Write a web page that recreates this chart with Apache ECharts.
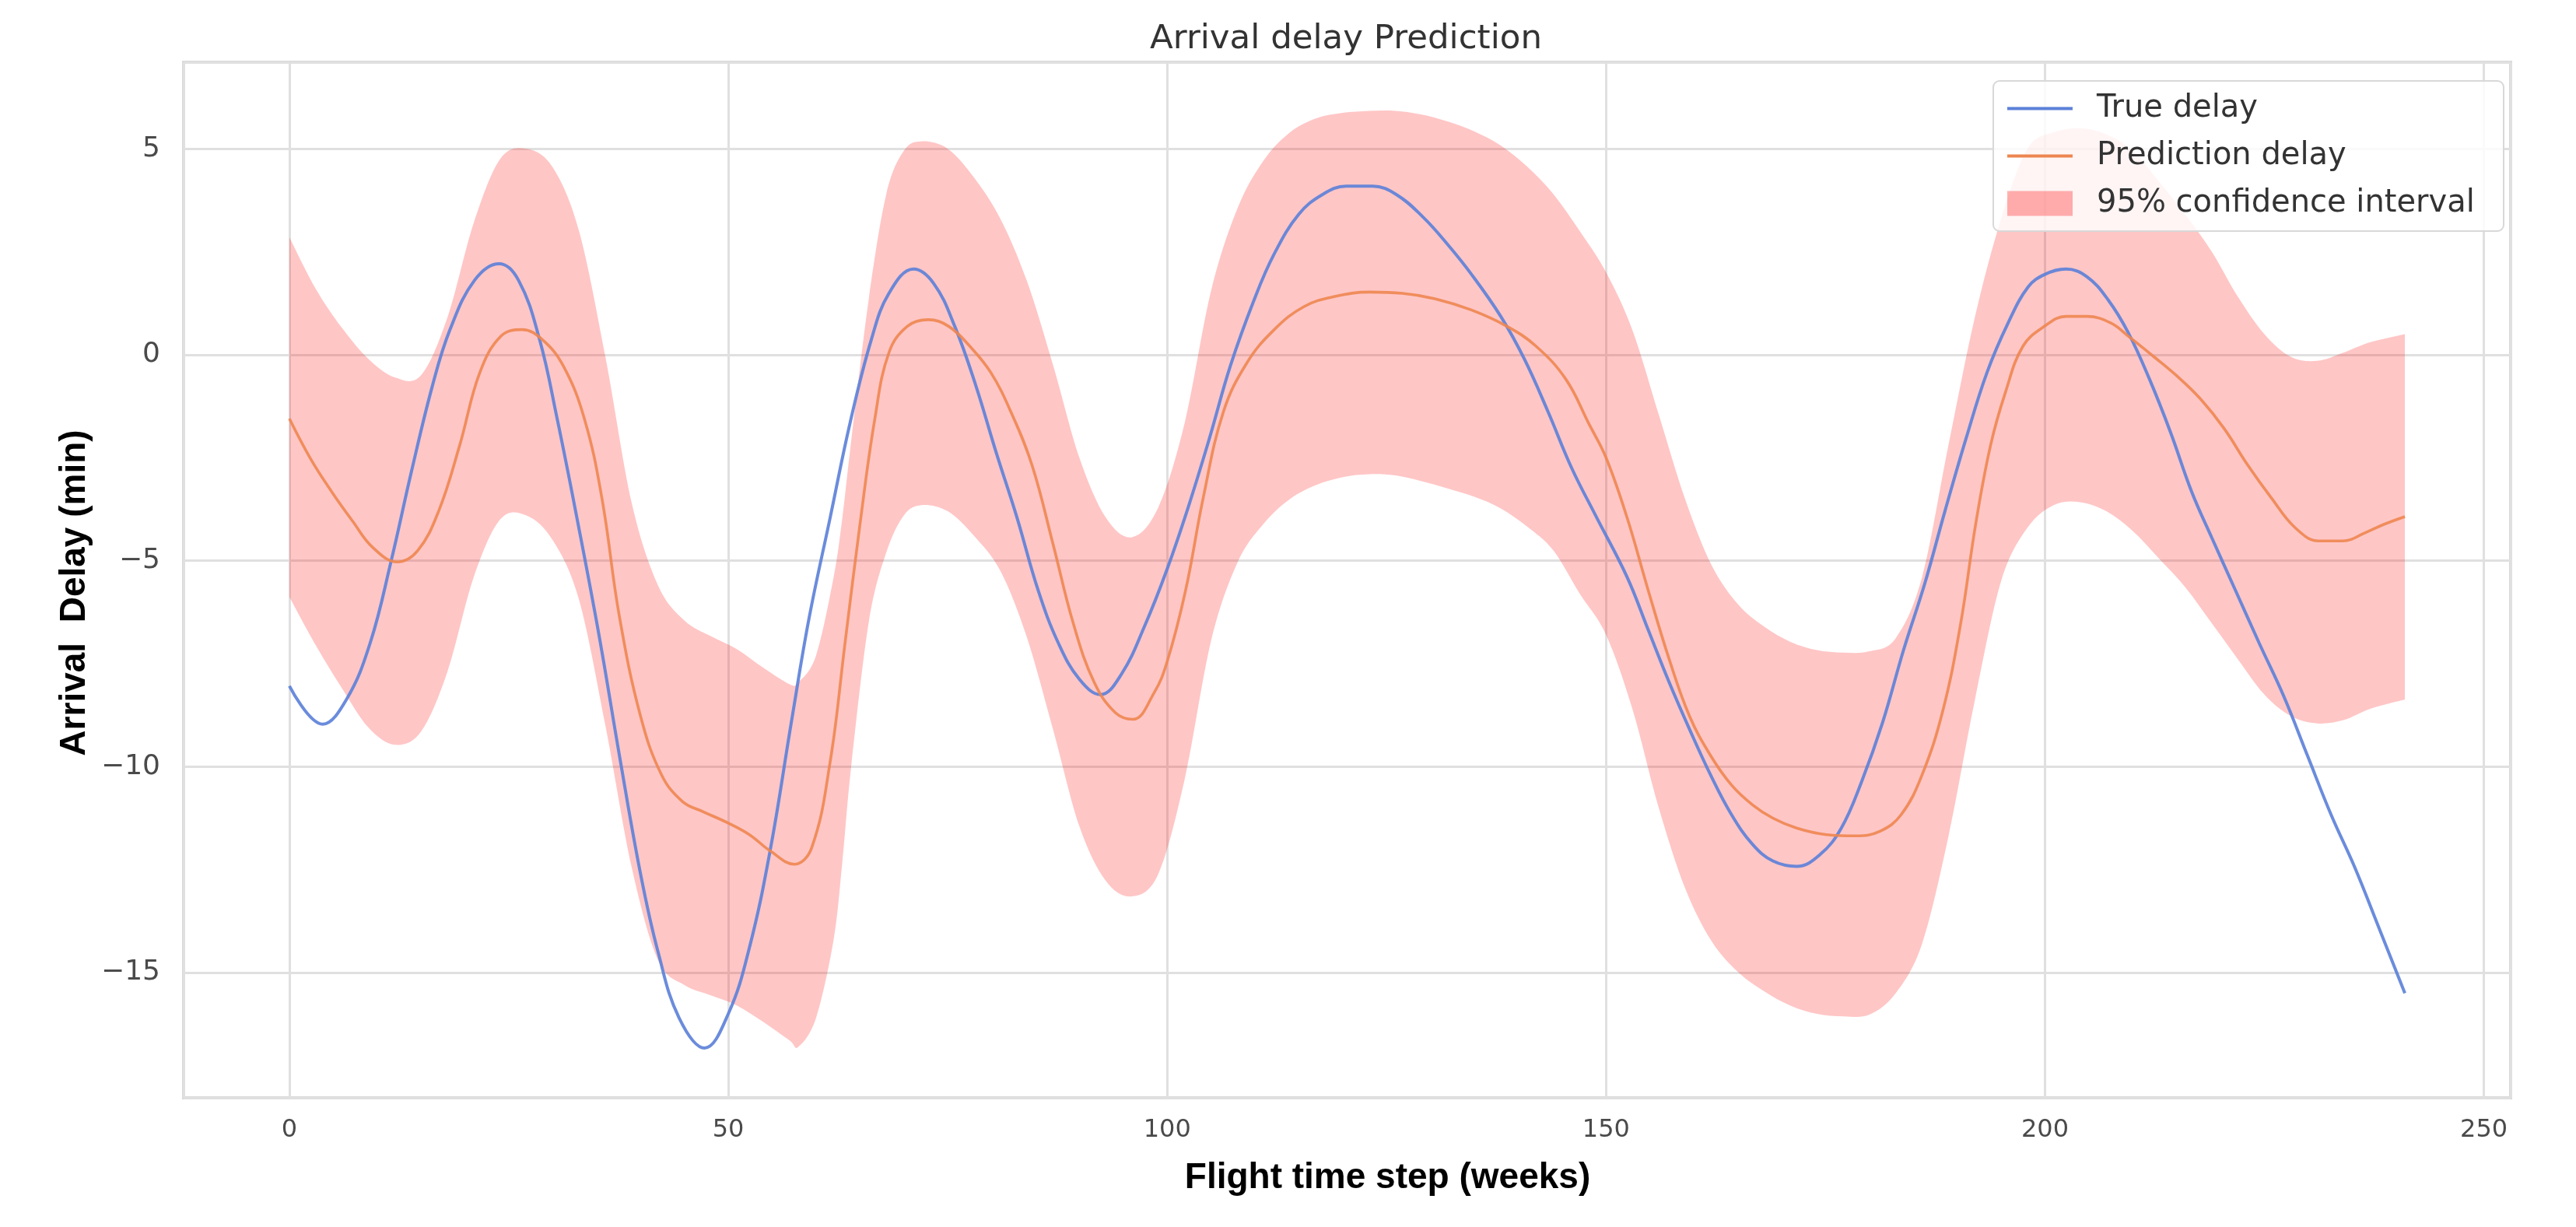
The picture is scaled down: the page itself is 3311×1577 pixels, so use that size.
<!DOCTYPE html>
<html>
<head>
<meta charset="utf-8">
<script src="https://cdn.jsdelivr.net/npm/echarts@6/dist/echarts.min.js"></script>
<style>
html,body{margin:0;padding:0;background:#ffffff;}
#chart{width:3311px;height:1577px;}
</style>
</head>
<body>
<div id="chart"></div>
<script>
// ---------------- data ----------------
const chartTitle = 'Arrival delay Prediction';
const xAxisTitle = 'Flight time step (weeks)';
const yAxisTitle = 'Arrival  Delay (min)';
const seriesNames = ['True delay', 'Prediction delay', '95% confidence interval'];

const xTicks = [0, 50, 100, 150, 200, 250];
const yTicks = [-15, -10, -5, 0, 5];

// True delay
const trueX = [0, 3.8, 6.5, 9.2, 11.6, 13.9, 16.3, 18.3, 21.1, 23.9, 26.1, 28.5, 30.5, 32.9, 35.3, 37.6, 40, 42, 44.4, 47.3,
  50, 52.4, 54.8, 57.2, 59.2, 61.6, 63.9, 66.3, 68.3, 71.1, 73.4, 75.8, 78.2, 80.5, 82.9, 85.3, 87.6, 90, 92.4, 94.8, 97.5,
  100, 102.4, 104.8, 107.2, 109.9, 112.2, 115, 117.7, 120.4, 123.4, 126.1, 129.2, 131.9, 134.6, 138, 140.7, 143.4, 146.1, 148.8,
  152.4, 154.8, 157.2, 159.5, 161.9, 164.3, 166.7, 169, 171.7, 174.4, 176.8, 179.1, 181.5, 183.9, 186.3, 188.6, 191, 193.4, 195.8, 198.1,
  200, 202.4, 204.8, 207.2, 209.5, 211.9, 214.3, 216.7, 219, 221.7, 224.4, 227.2, 229.9, 232.6, 235.3, 238, 241];
const trueY = [-8.04, -8.97, -8.37, -7.0, -5.0, -2.84, -0.75, 0.61, 1.81, 2.21, 1.81, 0.37, -1.55, -4.12, -6.84, -9.73, -12.6, -14.5, -16.1, -16.83,
  -16.0, -14.4, -12.0, -8.9, -6.4, -3.96, -1.63, 0.37, 1.49, 2.08, 1.73, 0.69, -0.75, -2.36, -3.96, -5.72, -7.0, -7.88, -8.25, -7.75, -6.55,
  -5.2, -3.7, -2.04, -0.27, 1.33, 2.45, 3.41, 3.89, 4.09, 4.09, 3.89, 3.33, 2.69, 1.97, 0.93, -0.11, -1.39, -2.76, -3.9,
  -5.4, -6.68, -7.96, -9.09, -10.2, -11.17, -11.89, -12.29, -12.42, -12.13, -11.49, -10.37, -8.93, -7.16, -5.56, -3.8, -2.04, -0.43, 0.77, 1.65,
  1.95, 2.08, 1.89, 1.33, 0.53, -0.59, -1.88, -3.32, -4.44, -5.72, -7.0, -8.29, -9.73, -11.17, -12.45, -13.89, -15.5];

// Prediction delay
const predX = [0, 2.4, 4.8, 7.2, 9.5, 12.3, 14.6, 17, 19.4, 21.7, 24.1, 26.5, 28.8, 31.2, 33.6, 35.6, 37.6, 40, 42.4, 44.8, 47.1,
  50, 52.4, 54.8, 57.5, 59.5, 61.6, 63.3, 65, 66.7, 68.3, 70.4, 72.8, 75.1, 77.5, 79.9, 82.2, 84.6, 87, 89.3, 91.7, 94.1, 96.1, 98.5,
  100, 102.1, 104.1, 106.4, 109.1, 112.2, 115.6, 119, 123.1, 126.8, 130.5, 134.6, 138.7, 142, 145.4, 148.1,
  150, 152.4, 154.8, 157.2, 159.5, 161.9, 164.3, 166.7, 169, 171.7, 175.1, 178.5, 181.2, 183.6, 186, 188.4, 190.4, 192.1, 193.8, 195.5, 197.5,
  200, 202.4, 204.8, 207.5, 209.5, 212.3, 215, 217.7, 220.4, 223.1, 225.8, 228.5, 231.2, 233.9, 236.6, 238.6, 241];
const predY = [-1.55, -2.52, -3.32, -4.04, -4.68, -5.03, -4.76, -3.8, -2.2, -0.43, 0.45, 0.61, 0.37, -0.27, -1.55, -3.48, -6.36, -8.77, -10.2, -10.85, -11.09,
  -11.37, -11.65, -12.05, -12.37, -11.97, -9.89, -7.0, -4.12, -1.55, 0.05, 0.69, 0.85, 0.69, 0.21, -0.43, -1.39, -2.68, -4.6, -6.52, -7.96, -8.69, -8.85, -8.21,
  -7.45, -5.72, -3.48, -1.39, -0.19, 0.61, 1.17, 1.41, 1.52, 1.49, 1.36, 1.09, 0.69, 0.21, -0.59, -1.7,
  -2.5, -3.96, -5.72, -7.4, -8.77, -9.73, -10.45, -10.93, -11.25, -11.49, -11.65, -11.68, -11.57, -11.17, -10.2, -8.61, -6.52, -4.12, -2.2, -0.91, 0.21,
  0.7, 0.93, 0.93, 0.77, 0.45, -0.03, -0.51, -1.07, -1.79, -2.68, -3.48, -4.2, -4.52, -4.52, -4.31, -4.12, -3.93];

// 95% confidence interval
const ciX = [0, 3, 6, 9, 12, 15, 18, 21, 24, 27, 30, 33, 36, 39, 42, 45, 48, 51, 54, 57, 58, 60, 62, 63, 64, 66, 68, 70, 72, 75, 78,
  81, 84, 87, 90, 93, 96, 99, 102, 105, 108, 111, 114, 117, 120, 123, 126, 129, 132, 135, 138, 141, 144, 147, 150, 153, 156, 159,
  162, 165, 168, 171, 174, 177, 180, 183, 186, 189, 192, 195, 198, 201, 204, 207, 210, 213, 216, 219, 222, 225, 228, 231, 234, 237, 241];
const ciUpper = [2.85, 1.6, 0.65, -0.1, -0.55, -0.5, 0.9, 3.2, 4.75, 5.0, 4.55, 3.0, -0.05, -3.6, -5.6, -6.45, -6.83, -7.15, -7.6, -8.0, -7.95, -7.3, -5.4, -3.95, -2.1, 1.35, 3.9, 4.95, 5.18, 5.0, 4.3,
  3.3, 1.8, -0.25, -2.5, -3.95, -4.43, -3.7, -1.65, 1.55, 3.55, 4.72, 5.4, 5.74, 5.87, 5.92, 5.92, 5.83, 5.66, 5.42, 5.08, 4.57, 3.9, 3.0, 2.0, 0.6, -1.45, -3.5,
  -5.1, -6.05, -6.6, -6.97, -7.17, -7.23, -7.2, -6.88, -5.4, -2.2, 0.9, 3.3, 5.0, 5.4, 5.5, 5.35, 4.95, 4.2, 3.4, 2.5, 1.4, 0.5, -0.05, -0.15, 0.05, 0.3, 0.5];
const ciLower = [-5.88, -7.05, -8.1, -9.05, -9.47, -9.15, -7.7, -5.4, -4.0, -3.9, -4.5, -5.95, -9.0, -12.45, -14.7, -15.3, -15.55, -15.8, -16.2, -16.65, -16.8, -16.1, -14.2, -12.3, -10.0, -6.5, -4.8, -3.9, -3.65, -3.8, -4.4,
  -5.25, -6.85, -9.1, -11.45, -12.77, -13.15, -12.6, -10.3, -6.95, -5.05, -4.1, -3.5, -3.16, -2.97, -2.9, -2.93, -3.07, -3.25, -3.45, -3.73, -4.17, -4.75, -5.8, -6.8, -8.6, -11.0, -12.95,
  -14.23, -14.98, -15.45, -15.8, -16.0, -16.06, -16.02, -15.5, -14.3, -11.7, -8.4, -5.5, -4.2, -3.65, -3.58, -3.8, -4.28, -4.95, -5.65, -6.52, -7.4, -8.25, -8.77, -8.95, -8.87, -8.6, -8.37];

// ---------------- styling ----------------
const BLUE = '#5b80d8';
const ORANGE = '#ee8650';
const PINK = 'rgba(255,0,0,0.225)';
const GRID_COLOR = '#e0e0e0';
const TICK_FONT = 'DejaVu Sans';
const LINE_ICON = 'path://M0,0L0.01,0L0.01,0.01Z M0,14L84,14L84,18L0,18Z M84,31.99L84.01,31.99L84.01,32Z';

const fmt = v => String(v).replace('-', '\u2212');

// smooth (Catmull-Rom) path through pixel points, built from api.coord results
function smoothSegment(p) {
  let s = '';
  for (let i = 0; i < p.length - 1; i++) {
    const p0 = p[Math.max(i - 1, 0)], p1 = p[i], p2 = p[i + 1], p3 = p[Math.min(i + 2, p.length - 1)];
    const t = 1 / 6;
    const c1x = p1[0] + (p2[0] - p0[0]) * t, c1y = p1[1] + (p2[1] - p0[1]) * t;
    const c2x = p2[0] - (p3[0] - p1[0]) * t, c2y = p2[1] - (p3[1] - p1[1]) * t;
    s += 'C' + c1x + ',' + c1y + ' ' + c2x + ',' + c2y + ' ' + p2[0] + ',' + p2[1];
  }
  return s;
}

function renderBand(params, api) {
  const up = ciX.map((x, i) => api.coord([x, ciUpper[i]]));
  const lo = ciX.map((x, i) => api.coord([x, ciLower[i]])).reverse();
  let d = 'M' + up[0][0] + ',' + up[0][1];
  d += smoothSegment(up);
  d += 'L' + lo[0][0] + ',' + lo[0][1];
  d += smoothSegment(lo);
  d += 'Z';
  return {
    type: 'path',
    z2: 0,
    shape: {pathData: d},
    style: {fill: PINK, stroke: null},
    silent: true
  };
}

const chart = echarts.init(document.getElementById('chart'), null, {renderer: 'canvas'});

const option = {
  backgroundColor: '#ffffff',
  animation: false,
  title: {
    text: chartTitle,
    left: 1473,
    top: 24,
    padding: 5,
    textStyle: {fontFamily: TICK_FONT, fontSize: 43.5, fontWeight: 'normal', color: '#333333'}
  },
  // translucent white panel behind the legend (matplotlib legend frame, alpha 0.8)
  graphic: [{
    type: 'rect',
    z: 30,
    silent: true,
    shape: {x: 2562, y: 104, width: 656, height: 193, r: 8},
    style: {fill: 'rgba(255,255,255,0.82)', stroke: '#d8d8d8', lineWidth: 2}
  }],
  legend: {
    z: 40,
    left: 2562,
    top: 104,
    orient: 'vertical',
    padding: [15, 35, 16, 18],
    itemWidth: 84,
    itemHeight: 32,
    itemGap: 20,
    textStyle: {fontFamily: TICK_FONT, fontSize: 40, color: '#333333', lineHeight: 41, padding: [0, 0, 0, 26]},
    data: [
      {name: seriesNames[0], icon: LINE_ICON, itemStyle: {color: BLUE}},
      {name: seriesNames[1], icon: LINE_ICON, itemStyle: {color: ORANGE}},
      {name: seriesNames[2], icon: 'rect', itemStyle: {color: 'rgba(255,0,0,0.3)'}}
    ]
  },
  grid: {
    left: 236, right: 84, top: 80, bottom: 166,
    show: true, borderColor: '#d9d9d9', borderWidth: 4, backgroundColor: 'transparent'
  },
  xAxis: {
    type: 'value',
    min: -12.05, max: 253.05,
    splitNumber: 5,
    axisLine: {show: false},
    axisTick: {show: false},
    splitLine: {show: true, lineStyle: {color: GRID_COLOR, width: 3}},
    axisLabel: {
      customValues: xTicks,
      formatter: fmt,
      margin: 26,
      fontFamily: TICK_FONT, fontSize: 32, color: '#4a4a4a'
    },
    name: xAxisTitle,
    nameLocation: 'middle',
    nameGap: 80,
    nameTextStyle: {fontFamily: 'Liberation Sans, Arial, sans-serif', fontWeight: 'bold', fontSize: 46, color: '#000000', padding: [0, 0, 0, 104]}
  },
  yAxis: {
    type: 'value',
    min: -18.04, max: 7.1,
    splitNumber: 5,
    axisLine: {show: false},
    axisTick: {show: false},
    splitLine: {show: true, lineStyle: {color: GRID_COLOR, width: 3}},
    axisLabel: {
      customValues: yTicks,
      formatter: fmt,
      margin: 30,
      fontFamily: TICK_FONT, fontSize: 36, color: '#4a4a4a'
    },
    name: yAxisTitle,
    nameLocation: 'middle',
    nameGap: 112,
    nameTextStyle: {fontFamily: 'Liberation Sans, Arial, sans-serif', fontWeight: 'bold', fontSize: 46, color: '#000000', padding: [0, 33, 0, 0]}
  },
  series: [
    {
      name: seriesNames[2], type: 'custom', z: 1, silent: true, clip: true,
      renderItem: renderBand,
      itemStyle: {color: PINK},
      data: [[ciX[0], ciLower[0]]]
    },
    {
      name: seriesNames[0], type: 'line', smooth: 0.4, symbol: 'none', z: 2,
      data: trueX.map((x, i) => [x, trueY[i]]),
      lineStyle: {color: BLUE, width: 4, opacity: 0.9}, itemStyle: {color: BLUE}
    },
    {
      name: seriesNames[1], type: 'line', smooth: 0.4, symbol: 'none', z: 3,
      data: predX.map((x, i) => [x, predY[i]]),
      lineStyle: {color: ORANGE, width: 3.6, opacity: 0.9}, itemStyle: {color: ORANGE}
    }
  ]
};
chart.setOption(option);
</script>
</body>
</html>
